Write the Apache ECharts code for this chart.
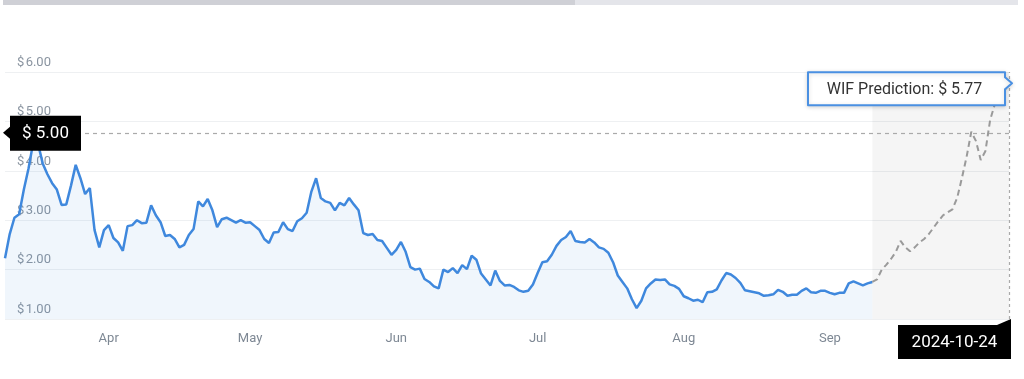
<!DOCTYPE html>
<html><head><meta charset="utf-8">
<script src="https://cdn.jsdelivr.net/npm/echarts@6/dist/echarts.min.js"></script>
<style>html,body{margin:0;padding:0;background:#fff;}#c{width:1024px;height:379px;}</style>
</head><body><div id="c"></div>
<script>
// ---- data ----
const startDate = '2024-03-25';
const endDate = '2024-10-24';
const monthLabels = ['Apr', 'May', 'Jun', 'Jul', 'Aug', 'Sep'];
const monthLabelDay = 16;
const yTicks = [1, 2, 3, 4, 5, 6];
const priceHistory = [
  2.23, 2.72, 3.05, 3.12, 3.62, 4.05, 4.58, 4.55, 4.15, 3.93,
  3.75, 3.62, 3.31, 3.32, 3.70, 4.12, 3.85, 3.53, 3.65, 2.80,
  2.45, 2.80, 2.90, 2.64, 2.55, 2.38, 2.88, 2.90, 3.00, 2.94,
  2.95, 3.30, 3.10, 2.96, 2.68, 2.70, 2.62, 2.45, 2.50, 2.70,
  2.82, 3.38, 3.28, 3.43, 3.20, 2.86, 3.02, 3.05, 3.00, 2.95,
  3.00, 2.95, 2.96, 2.88, 2.80, 2.62, 2.54, 2.75, 2.76, 2.96,
  2.82, 2.78, 2.98, 3.04, 3.15, 3.58, 3.85, 3.45, 3.38, 3.35,
  3.20, 3.35, 3.30, 3.45, 3.32, 3.20, 2.74, 2.70, 2.72, 2.60,
  2.58, 2.44, 2.30, 2.40, 2.56, 2.36, 2.05, 2.00, 2.02, 1.81,
  1.75, 1.66, 1.62, 2.00, 1.95, 2.03, 1.93, 2.09, 2.01, 2.28,
  2.20, 1.92, 1.80, 1.68, 1.98, 1.77, 1.68, 1.69, 1.65, 1.58,
  1.55, 1.57, 1.70, 1.93, 2.15, 2.17, 2.30, 2.48, 2.60, 2.66,
  2.78, 2.58, 2.56, 2.55, 2.62, 2.55, 2.45, 2.42, 2.34, 2.15,
  1.88, 1.75, 1.62, 1.40, 1.22, 1.37, 1.62, 1.72, 1.80, 1.79,
  1.80, 1.70, 1.67, 1.61, 1.46, 1.42, 1.37, 1.39, 1.34, 1.54,
  1.55, 1.60, 1.78, 1.93, 1.90, 1.83, 1.73, 1.58, 1.56, 1.54,
  1.52, 1.47, 1.48, 1.50, 1.59, 1.55, 1.47, 1.49, 1.49, 1.57,
  1.62, 1.54, 1.53, 1.57, 1.57, 1.53, 1.50, 1.53, 1.53, 1.72,
  1.76, 1.72, 1.68, 1.72, 1.75
];
const predictionValues = [
  1.75, 1.80, 2.00, 2.10, 2.22, 2.36, 2.58, 2.45, 2.37, 2.45,
  2.55, 2.62, 2.72, 2.85, 2.98, 3.10, 3.16, 3.22, 3.45, 3.85,
  4.28, 4.79, 4.60, 4.22, 4.40, 5.03, 5.35, 5.50, 5.62, 5.77
];
const markerValue = 4.77;
const markerText = '$ 5.00';
const predictionText = 'WIF Prediction: $ 5.77';
const predictionDateText = '2024-10-24';

// ---- build ----
const dates = [];
{
  let d = new Date(startDate + 'T00:00:00Z');
  const e = new Date(endDate + 'T00:00:00Z');
  while (d <= e) { dates.push(d.toISOString().slice(0, 10)); d = new Date(d.getTime() + 86400000); }
}
const N = dates.length;
const histData = dates.map((_, i) => i < priceHistory.length ? priceHistory[i] : null);
const predStart = N - predictionValues.length;
const predData = dates.map((_, i) => i >= predStart ? predictionValues[i - predStart] : null);
const monNames = ['Jan','Feb','Mar','Apr','May','Jun','Jul','Aug','Sep','Oct','Nov','Dec'];
function labelFor(ds) {
  const m = monNames[parseInt(ds.slice(5, 7), 10) - 1];
  return (parseInt(ds.slice(8, 10), 10) === monthLabelDay && monthLabels.indexOf(m) >= 0) ? m : null;
}
const FONT = 'Roboto, "Noto Sans", sans-serif';

const chart = echarts.init(document.getElementById('c'), null, { renderer: 'canvas' });
chart.setOption({
  animation: false,
  backgroundColor: '#fff',
  grid: { left: 5, right: 15, top: 72, bottom: 60, containLabel: false },
  xAxis: {
    type: 'category', data: dates, boundaryGap: false,
    axisLine: { show: false }, axisTick: { show: false },
    splitLine: { show: false },
    axisLabel: {
      interval: (idx, val) => labelFor(val) !== null,
      formatter: (val) => labelFor(val) || '',
      color: '#7e8894', fontSize: 13, fontFamily: FONT, margin: 13
    }
  },
  yAxis: {
    type: 'value', min: yTicks[0], max: yTicks[yTicks.length - 1], interval: 1,
    axisLine: { show: false }, axisTick: { show: false },
    splitLine: { lineStyle: { color: '#eef0f2', width: 1 } },
    axisLabel: {
      inside: true, margin: 12, verticalAlign: 'bottom', padding: [0, 0, 3, 0],
      color: '#8a94a0', fontSize: 13, fontFamily: FONT,
      formatter: (v) => '$\u200A' + v.toFixed(2)
    }
  },
  series: [
    {
      type: 'line', data: histData, symbol: 'none', showSymbol: false,
      lineStyle: { color: '#3f88dd', width: 2.5 },
      areaStyle: { color: 'rgba(63,136,221,0.11)', origin: 'start' },
      z: 3,
      markLine: {
        silent: true, symbol: 'none', label: { show: false },
        lineStyle: { color: '#aaaaaa', type: [4, 4], width: 1.2 },
        data: [{ yAxis: markerValue }]
      }
    },
    {
      type: 'line', data: predData, symbol: 'none', showSymbol: false,
      lineStyle: { color: '#9a9a9a', width: 2, type: [6, 4] },
      z: 3,
      markArea: {
        silent: true,
        itemStyle: { color: 'rgba(0,0,0,0.038)' },
        data: [[{ xAxis: dates[predStart] }, { xAxis: dates[N - 1] }]]
      },
      markLine: {
        silent: true, symbol: 'none', label: { show: false },
        lineStyle: { color: '#aaaaaa', type: [3, 3], width: 1.2 },
        data: [{ xAxis: dates[N - 1] }]
      }
    }
  ]
});

// ---- callout labels, placed through the chart's own scales ----
const yMark = chart.convertToPixel({ yAxisIndex: 0 }, markerValue);
const pEnd = chart.convertToPixel({ xAxisIndex: 0, yAxisIndex: 0 }, [dates[N - 1], predictionValues[predictionValues.length - 1]]);
const yBottom = chart.convertToPixel({ yAxisIndex: 0 }, yTicks[0]);
const xEnd = pEnd[0];

const bx = xEnd - 4, by = pEnd[1] - 11, bw = 197, bh = 33;
chart.setOption({
  graphic: [
    { type: 'rect', shape: { x: 3, y: 0, width: 1015, height: 5 }, style: { fill: '#e4e5ea' }, z: 100 },
    { type: 'rect', shape: { x: 3, y: 0, width: 572, height: 5 }, style: { fill: '#cfd0d6' }, z: 101 },
    // $5.00 marker box
    { type: 'polygon', shape: { points: [[3, yMark], [10, yMark - 6], [10, yMark + 6]] }, style: { fill: '#000' }, z: 100 },
    { type: 'rect', shape: { x: 10, y: yMark - 17, width: 71, height: 35 }, style: { fill: '#000' }, z: 100 },
    { type: 'text', x: 45.5, y: yMark + 0.5, style: { text: markerText, fill: '#fff', font: '17px ' + FONT, align: 'center', verticalAlign: 'middle' }, z: 101 },
    // prediction callout
    { type: 'polygon',
      shape: { points: [[bx - bw, by], [bx, by], [bx, pEnd[1] - 6], [xEnd + 3, pEnd[1]], [bx, pEnd[1] + 6], [bx, by + bh], [bx - bw, by + bh]] },
      style: { fill: '#fff', stroke: '#4a90e2', lineWidth: 2, lineJoin: 'round', shadowBlur: 4, shadowColor: 'rgba(0,0,0,0.15)', shadowOffsetY: 1 }, z: 100 },
    { type: 'text', x: bx - bw / 2 - 2, y: by + bh / 2 + 1, style: { text: predictionText, fill: '#333', font: '16px ' + FONT, align: 'center', verticalAlign: 'middle' }, z: 101 },
    // date box
    { type: 'polygon', shape: { points: [[xEnd - 12, yBottom + 6], [xEnd + 2, yBottom], [xEnd + 2, yBottom + 6]] }, style: { fill: '#000' }, z: 100 },
    { type: 'rect', shape: { x: xEnd - 111, y: yBottom + 6, width: 113, height: 34 }, style: { fill: '#000' }, z: 100 },
    { type: 'text', x: xEnd - 54.5, y: yBottom + 23.5, style: { text: predictionDateText, fill: '#fff', font: '17px ' + FONT, align: 'center', verticalAlign: 'middle' }, z: 101 }
  ]
});
</script>
</body></html>
